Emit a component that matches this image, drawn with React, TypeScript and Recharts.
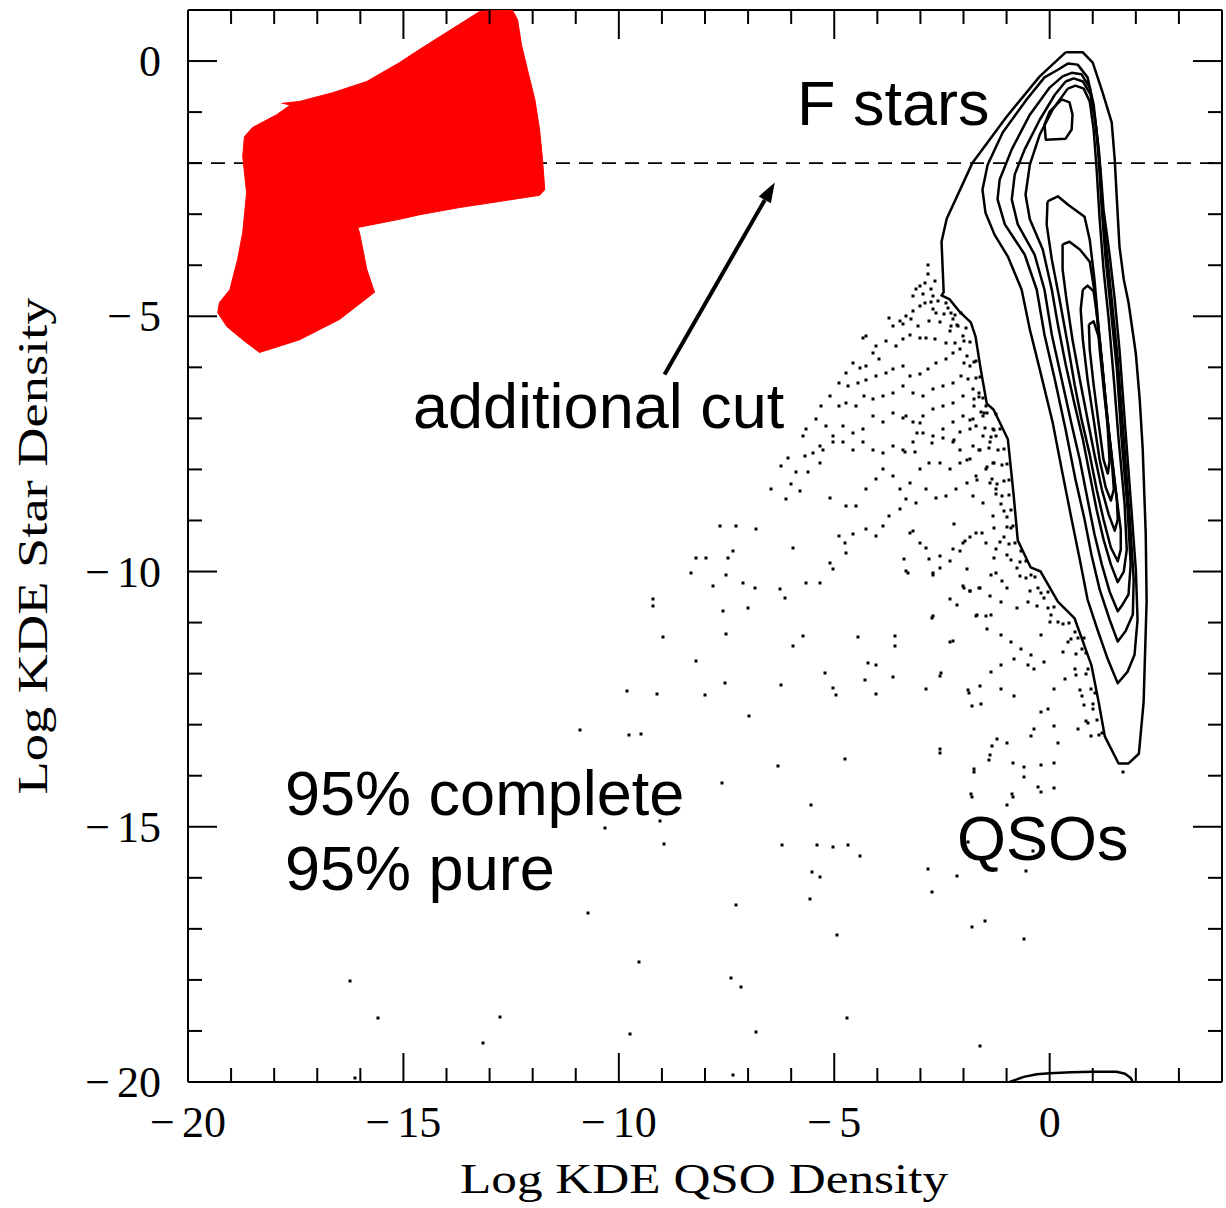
import React from "react";
import { ScatterChart, Scatter, XAxis, YAxis, ReferenceLine } from "recharts";

type Pt = [number, number];

const X_TICKS = [-20, -19, -18, -17, -16, -15, -14, -13, -12, -11, -10, -9, -8, -7, -6, -5, -4, -3, -2, -1, 0, 1, 2, 3];
const Y_TICKS = [-20, -19, -18, -17, -16, -15, -14, -13, -12, -11, -10, -9, -8, -7, -6, -5, -4, -3, -2, -1, 0];

// upper part of the QSO wedge
const wedgeDots: Pt[] = [
  [-2.83, -3.99], [-2.83, -4.18], [-2.9, -4.34], [-2.67, -4.31], [-3.02, -4.41], [-2.75, -4.47], [-2.94, -4.57],
  [-3.1, -4.47], [-3.17, -4.6], [-2.71, -4.6], [-2.9, -4.73], [-3.02, -4.8], [-3.17, -4.9], [-2.71, -4.86],
  [-2.63, -4.93], [-3.33, -4.99], [-3.48, -5.09], [-3.72, -5.03], [-3.64, -5.19], [-3.41, -5.16], [-3.21, -5.06],
  [-3.06, -5.19], [-2.79, -5.09], [-2.55, -5.12], [-2.36, -4.83], [-2.28, -4.93], [-2.4, -4.73], [-2.24, -5.06],
  [-2.13, -5.19], [-2.01, -5.39], [-2.32, -5.29], [-2.4, -5.52], [-2.67, -5.45], [-2.86, -5.42], [-3.02, -5.42],
  [-3.25, -5.36], [-3.41, -5.45], [-3.56, -5.58], [-3.79, -5.49], [-4.02, -5.58], [-4.26, -5.39], [-4.33, -5.42],
  [-4.1, -5.71], [-3.95, -5.84], [-4.26, -5.97], [-4.41, -6.01], [-4.57, -5.91], [-4.72, -6.11], [-4.88, -6.3],
  [-4.68, -6.37], [-4.45, -6.3], [-4.26, -6.24], [-4.02, -6.17], [-3.79, -6.11], [-3.64, -6.04], [-3.41, -5.97],
  [-3.25, -6.17], [-3.02, -6.14], [-2.83, -6.04], [-2.63, -5.91], [-2.4, -5.84], [-2.24, -5.71], [-2.09, -5.65],
  [-1.93, -5.78], [-1.86, -5.97], [-2.05, -6.17], [-2.24, -6.3], [-2.48, -6.37], [-2.71, -6.43], [-2.94, -6.56],
  [-3.17, -6.5], [-3.41, -6.37], [-3.64, -6.5], [-3.87, -6.56], [-4.1, -6.63], [-4.3, -6.56], [-4.49, -6.76],
  [-4.72, -6.69], [-4.88, -6.76], [-5.11, -6.56], [-5.3, -6.76], [-5.42, -7.02], [-5.65, -7.21], [-5.73, -7.34],
  [-5.34, -7.54], [-5.19, -7.15], [-5.03, -7.34], [-4.8, -7.15], [-4.57, -7.28], [-4.33, -7.21], [-4.1, -6.95],
  [-3.87, -7.08], [-3.64, -6.89], [-3.41, -6.99], [-3.17, -7.08], [-2.94, -6.95], [-2.71, -6.82], [-2.48, -6.76],
  [-2.24, -6.69], [-2.01, -6.56], [-1.78, -6.43], [-1.63, -6.5], [-1.47, -6.76], [-1.55, -6.95], [-1.78, -7.02],
  [-2.01, -6.95], [-2.24, -7.08], [-2.48, -7.21], [-2.71, -7.34], [-2.94, -7.28], [-3.17, -7.47], [-3.41, -7.61],
  [-3.64, -7.54], [-3.87, -7.67], [-4.1, -7.61], [-4.33, -7.47], [-4.57, -7.61], [-4.8, -7.47], [-5.03, -7.47],
  [-5.26, -7.61], [-5.5, -7.67], [-5.69, -7.74], [-6.08, -7.77], [-6.23, -7.93], [-5.88, -8.06], [-5.61, -8.06],
  [-6.0, -8.29], [-5.8, -8.42], [-6.46, -8.39], [-6.11, -8.58], [-5.34, -7.87], [-5.11, -8.55], [-4.72, -8.72],
  [-4.49, -8.72], [-4.26, -8.39], [-4.02, -8.19], [-3.87, -8.0], [-3.64, -8.13], [-3.48, -8.39], [-3.25, -8.26],
  [-3.02, -8.0], [-2.79, -7.87], [-2.55, -7.87], [-2.32, -8.0], [-2.09, -7.87], [-1.86, -7.8], [-1.63, -7.61],
  [-1.39, -7.47], [-1.24, -7.34], [-1.32, -7.87], [-1.47, -8.0], [-1.7, -8.13], [-1.93, -8.26], [-2.17, -8.39],
  [-2.4, -8.52], [-2.63, -8.55], [-2.86, -8.39], [-3.1, -8.65], [-3.33, -8.58], [-3.48, -8.78], [-3.72, -8.91],
  [-3.87, -9.11], [-4.02, -9.31], [-4.26, -9.17], [-4.57, -9.27], [-4.76, -9.44], [-4.88, -9.31], [-4.72, -9.63],
  [-5.03, -9.96], [-5.11, -9.83], [-5.34, -10.22], [-5.65, -10.22], [-5.96, -9.53], [-6.27, -10.35], [-6.15, -10.51],
  [-6.81, -9.17], [-7.28, -9.11], [-7.66, -9.11], [-7.47, -9.73], [-7.35, -9.6], [-7.97, -9.73], [-8.2, -9.73],
  [-8.32, -10.02], [-7.82, -10.28], [-7.51, -10.06], [-7.12, -10.22], [-6.85, -10.32], [-7.0, -10.71], [-7.59, -10.77],
  [-9.21, -10.54], [-9.21, -10.68], [-8.98, -11.29], [-7.51, -11.23], [-5.73, -11.26], [-5.96, -11.46], [-4.45, -11.29],
  [-3.6, -11.26], [-3.6, -11.46], [-2.24, -11.36], [-1.7, -10.87], [-2.01, -10.28], [-1.86, -10.38], [-1.63, -10.32],
  [-1.39, -10.48], [-2.71, -10.02], [-2.79, -9.76], [-3.02, -9.44], [-3.25, -9.24], [-3.37, -9.76], [-3.29, -10.02],
  [-2.55, -9.7], [-2.24, -9.56], [-2.01, -9.44], [-1.7, -9.24], [-1.47, -9.44], [-1.24, -9.56], [-1.93, -9.96],
  [-2.32, -10.54], [-2.71, -10.87], [-1.47, -10.87], [-1.24, -10.02], [-1.32, -8.91], [-1.55, -8.65], [-1.78, -8.52],
  [-1.24, -8.39], [-1.39, -8.26], [-1.32, -7.21], [-1.7, -7.15], [-1.86, -7.21], [-2.24, -7.47], [-2.09, -7.61],
  [-1.78, -7.54], [-1.55, -7.34],
];

// dense band along the left edge of the outer contour
const edgeDots: Pt[] = [
  [-3.33, -6.96], [-3.01, -7.09], [-3.09, -7.29], [-3.35, -7.65], [-3.13, -7.65], [-2.74, -7.49], [-2.47, -7.39],
  [-2.23, -7.42], [-2.08, -7.26], [-1.84, -7.03], [-1.76, -6.76], [-1.53, -6.89], [-1.37, -7.36], [-1.61, -7.62],
  [-1.92, -7.82], [-1.69, -8.21], [-1.45, -7.95], [-1.22, -8.28], [-1.14, -8.68], [-0.98, -8.94], [-0.9, -9.14],
  [-1.06, -9.33], [-1.29, -9.14], [-1.57, -9.24], [-1.84, -9.33], [-2.08, -9.6], [-2.31, -9.8], [-2.54, -9.93],
  [-2.7, -10.06], [-2.86, -9.53], [-3.17, -9.2], [-3.33, -9.99], [-2.23, -9.07], [-1.96, -9.4], [-1.29, -9.73],
  [-0.98, -9.67], [-0.67, -9.6], [-1.37, -10.06], [-1.1, -10.19], [-0.75, -9.93], [-0.43, -10.06], [-0.28, -10.33],
  [-0.12, -10.52], [-0.51, -10.59], [-0.75, -10.72], [-0.98, -10.33], [-1.14, -10.59], [-1.37, -10.85], [-1.61, -10.33],
  [-1.84, -10.39], [-2.0, -10.33], [-2.15, -10.65], [-2.31, -11.38], [-2.54, -12.04], [-2.86, -12.3], [-2.74, -10.92],
  [-1.69, -10.85], [-1.45, -11.12], [-1.14, -11.25], [-0.9, -11.38], [-0.67, -11.51], [-0.43, -11.64], [-0.2, -11.25],
  [0.03, -10.85], [0.19, -10.98], [0.43, -11.38], [0.58, -11.18], [0.74, -11.51], [0.66, -11.31], [0.9, -11.91],
  [0.58, -11.91], [0.35, -12.11], [0.11, -12.3], [-0.12, -11.77], [-0.36, -11.91], [-0.51, -11.84], [-0.82, -11.71],
  [-1.14, -11.84], [-1.37, -11.97], [-1.61, -12.24], [-1.88, -12.37], [-1.8, -12.63], [-1.14, -12.3], [-0.82, -12.43],
  [-0.2, -12.76], [-0.04, -12.7], [0.11, -13.03], [-0.36, -13.09], [-0.43, -13.23], [-0.98, -13.36], [-1.22, -13.29],
  [-1.33, -13.42], [-2.54, -13.56], [-1.76, -13.92], [-1.41, -13.69], [-0.86, -13.75], [-0.59, -13.82], [-0.2, -13.79],
  [0.11, -13.75], [0.19, -13.36], [0.66, -13.09], [0.9, -12.96], [1.01, -12.7], [0.74, -12.43], [1.05, -12.37],
  [1.21, -13.16], [-0.28, -14.22], [-0.2, -14.32], [0.11, -14.25], [-0.59, -14.02], [-0.86, -14.41], [-1.8, -14.41],
  [1.7, -13.92],
];

// the thickest crowd, hugging the outer contour
const rimDots: Pt[] = [
  [-2.6, -4.7], [-2.75, -4.72], [-2.45, -4.95], [-2.2, -4.97], [-2.05, -4.93], [-2.3, -5.2], [-1.95, -5.22],
  [-2.15, -5.18], [-1.85, -5.5], [-2.0, -5.48], [-2.2, -5.52], [-1.75, -5.9], [-2.0, -5.92], [-1.7, -5.88],
  [-1.7, -6.2], [-1.9, -6.22], [-1.62, -6.18], [-1.55, -6.6], [-1.75, -6.62], [-1.65, -6.58], [-1.45, -6.9],
  [-1.25, -6.92], [-1.6, -6.88], [-1.15, -7.2], [-1.3, -7.22], [-1.5, -7.18], [-1.05, -7.6], [-1.2, -7.62],
  [-1.4, -7.58], [-1.0, -7.9], [-1.1, -7.92], [-1.3, -7.88], [-0.95, -8.2], [-1.05, -8.22], [-1.35, -8.18],
  [-0.95, -8.5], [-1.1, -8.52], [-1.25, -8.48], [-0.9, -8.8], [-1.05, -8.82], [-0.85, -9.1], [-1.0, -9.12],
  [-0.8, -9.45], [-0.95, -9.47], [-1.15, -9.43], [-0.55, -9.8], [-0.7, -9.82], [-0.9, -9.78], [-0.35, -10.1],
  [-0.55, -10.12], [-0.7, -10.08], [-0.05, -10.4], [-0.2, -10.42], [-0.45, -10.38], [0.1, -10.7], [-0.05, -10.72],
  [-0.3, -10.68], [0.45, -11.0], [0.3, -11.02], [0.0, -10.98], [0.8, -11.3], [0.5, -11.32], [0.85, -11.6],
  [0.6, -11.62], [0.3, -11.58], [0.85, -12.0], [0.6, -12.02], [0.95, -12.3], [0.7, -12.32], [1.0, -12.6],
  [0.8, -12.62], [1.1, -12.9], [0.85, -12.92], [1.15, -13.2], [0.95, -13.22],
];

// scattered outliers towards the lower left
const sparseDots: Pt[] = [
  [-8.22, -11.76], [-5.22, -11.98], [-4.22, -11.8], [-4.04, -11.84], [-4.29, -12.13], [-3.64, -12.06], [-7.54, -12.19],
  [-6.24, -12.23], [-5.04, -12.29], [-4.97, -12.41], [-4.04, -12.39], [-9.82, -12.35], [-9.12, -12.39], [-8.01, -12.41],
  [-6.99, -12.84], [-10.89, -13.11], [-9.77, -13.21], [-9.49, -13.19], [-6.31, -13.8], [-4.76, -13.68], [-7.61, -14.15],
  [-5.55, -14.58], [-9.05, -14.88], [-10.31, -15.03], [-8.96, -15.33], [-6.22, -15.35], [-5.39, -15.35], [-5.04, -15.39],
  [-4.69, -15.35], [-4.41, -15.58], [-5.52, -15.88], [-5.32, -15.99], [-2.83, -15.82], [-2.14, -15.96], [-2.74, -16.27],
  [-5.57, -16.41], [-7.27, -16.54], [-10.72, -16.68], [-4.94, -17.13], [-1.81, -16.97], [-1.49, -16.84], [-0.6, -17.19],
  [-9.54, -17.64], [-7.4, -17.97], [-7.17, -18.13], [-4.71, -18.74], [-9.75, -19.05], [-6.82, -19.03], [-1.62, -19.3],
  [-7.34, -19.87], [-1.9, -15.29], [-1.0, -14.58], [-0.88, -14.35], [-0.39, -15.48], [-0.56, -15.86], [-2.55, -13.47],
  [-1.39, -13.6], [-1.76, -13.86], [-1.83, -14.35], [-1.9, -12.33], [-1.6, -12.6], [-2.53, -11.98],
  [-16.24, -18.03], [-15.59, -18.75], [-12.75, -18.73], [-13.15, -19.23], [-16.13, -19.93],
];

const contour1: Pt[] = [
  [0.37, 0.17], [0.77, 0.17], [1.0, -0.03], [1.23, -0.62], [1.44, -1.2], [1.51, -1.93], [1.56, -2.71], [1.62, -3.63],
  [1.72, -4.28], [1.83, -4.73], [2.0, -5.73], [2.09, -6.63], [2.16, -7.61], [2.23, -9.27], [2.25, -10.59], [2.18, -12.57],
  [2.07, -13.57], [1.83, -13.76], [1.6, -13.76], [1.28, -13.23], [1.14, -12.57], [0.97, -11.84], [0.58, -10.92],
  [0.19, -10.59], [-0.21, -10.0], [-0.44, -9.92], [-0.74, -9.39], [-0.84, -8.47], [-0.97, -7.41], [-1.3, -6.83],
  [-1.46, -6.71], [-1.6, -6.04], [-1.72, -5.4], [-1.83, -5.12], [-2.07, -4.93], [-2.32, -4.67], [-2.51, -4.59],
  [-2.46, -4.53], [-2.51, -3.54], [-2.39, -3.09], [-1.79, -1.99], [-1.0, -1.09], [-0.23, -0.3],
];
const contour2: Pt[] = [
  [0.19, -0.17], [0.42, -0.05], [0.65, -0.07], [0.88, -0.32], [1.02, -0.85], [1.11, -1.54], [1.18, -2.12], [1.25, -2.91],
  [1.39, -3.79], [1.51, -4.67], [1.62, -5.65], [1.74, -7.02], [1.88, -8.59], [2.0, -9.96], [2.04, -10.94], [1.97, -11.63],
  [1.81, -11.96], [1.58, -12.19], [1.35, -11.72], [1.11, -11.14], [0.88, -10.55], [0.7, -9.77], [0.51, -8.98],
  [0.28, -8.0], [0.07, -7.08], [-0.23, -6.04], [-0.46, -5.26], [-0.65, -4.48], [-0.97, -3.83], [-1.28, -3.4],
  [-1.49, -2.97], [-1.56, -2.52], [-1.44, -2.03], [-1.09, -1.4], [-0.53, -0.75], [-0.12, -0.32],
];
const contour3: Pt[] = [
  [0.3, -0.3], [0.51, -0.23], [0.74, -0.26], [0.93, -0.52], [1.04, -1.05], [1.14, -1.73], [1.21, -2.71], [1.32, -3.69],
  [1.44, -4.67], [1.58, -5.85], [1.72, -7.41], [1.86, -8.98], [1.95, -10.16], [1.93, -10.84], [1.76, -11.17],
  [1.58, -11.37], [1.39, -10.94], [1.16, -10.35], [0.97, -9.67], [0.81, -8.98], [0.6, -8.2], [0.37, -7.22],
  [0.12, -6.24], [-0.12, -5.36], [-0.3, -4.48], [-0.58, -3.79], [-1.04, -3.2], [-1.21, -2.71], [-1.16, -2.32],
  [-0.88, -1.73], [-0.46, -1.05], [0.0, -0.52],
];
const contour4: Pt[] = [
  [0.37, -0.4], [0.56, -0.34], [0.77, -0.4], [0.95, -0.66], [1.07, -1.24], [1.14, -1.93], [1.21, -2.91], [1.3, -3.89],
  [1.42, -4.87], [1.56, -6.04], [1.67, -7.41], [1.81, -8.79], [1.88, -9.86], [1.83, -10.45], [1.69, -10.65],
  [1.58, -10.78], [1.39, -10.39], [1.21, -9.86], [1.04, -9.27], [0.88, -8.59], [0.7, -7.81], [0.51, -7.12],
  [0.28, -6.24], [0.05, -5.36], [-0.12, -4.48], [-0.35, -3.79], [-0.74, -3.2], [-0.88, -2.71], [-0.81, -2.22],
  [-0.58, -1.73], [-0.23, -1.15], [0.12, -0.66],
];
const contour5: Pt[] = [
  [0.42, -0.54], [0.6, -0.48], [0.79, -0.54], [0.93, -0.79], [1.02, -1.34], [1.09, -2.12], [1.16, -3.1], [1.25, -4.08],
  [1.37, -5.06], [1.49, -6.24], [1.6, -7.41], [1.74, -8.69], [1.79, -9.57], [1.72, -10.0], [1.58, -10.21], [1.42, -9.86],
  [1.25, -9.37], [1.09, -8.79], [0.93, -8.1], [0.77, -7.41], [0.58, -6.73], [0.37, -5.94], [0.19, -5.16], [0.05, -4.48],
  [-0.16, -3.69], [-0.46, -3.1], [-0.56, -2.62], [-0.46, -2.03], [-0.23, -1.44], [0.07, -0.95],
];
const peakBlob: Pt[] = [
  [0.28, -0.75], [0.46, -0.81], [0.53, -1.05], [0.51, -1.34], [0.37, -1.52], [-0.09, -1.54], [-0.12, -1.24], [0.0, -0.99],
];
const contour6: Pt[] = [
  [-0.05, -2.75], [0.19, -2.65], [0.42, -2.81], [0.81, -3.05], [0.93, -3.5], [1.04, -4.28], [1.14, -5.26], [1.25, -6.24],
  [1.37, -7.22], [1.53, -8.39], [1.65, -9.18], [1.65, -9.57], [1.58, -9.8], [1.42, -9.53], [1.25, -8.98], [1.09, -8.39],
  [0.93, -7.71], [0.74, -7.02], [0.58, -6.34], [0.42, -5.55], [0.23, -4.67], [0.05, -3.89], [-0.07, -3.2],
];
const contour7: Pt[] = [
  [0.3, -3.59], [0.46, -3.54], [0.7, -3.69], [0.93, -3.93], [1.07, -4.67], [1.16, -5.65], [1.28, -6.63], [1.42, -7.61],
  [1.56, -8.59], [1.58, -8.98], [1.51, -9.2], [1.37, -8.88], [1.21, -8.39], [1.04, -7.71], [0.88, -7.02], [0.7, -6.24],
  [0.53, -5.46], [0.39, -4.67], [0.3, -4.08],
];
const contour8: Pt[] = [
  [0.77, -4.48], [0.88, -4.4], [1.02, -4.51], [1.11, -5.06], [1.21, -5.85], [1.32, -6.83], [1.44, -7.81], [1.49, -8.39],
  [1.42, -8.61], [1.3, -8.35], [1.16, -7.81], [1.02, -7.02], [0.88, -6.24], [0.77, -5.46], [0.72, -4.87],
];
const contour9: Pt[] = [
  [0.91, -5.16], [1.02, -5.1], [1.16, -5.46], [1.25, -6.24], [1.35, -7.22], [1.39, -7.84], [1.35, -8.08], [1.25, -7.81],
  [1.14, -7.12], [1.02, -6.34], [0.93, -5.65],
];
const floorContour: Pt[] = [
  [-0.93, -20], [-0.6, -19.9], [-0.3, -19.85], [0.0, -19.83], [0.5, -19.81], [1.0, -19.8], [1.55, -19.8], [1.75, -19.84],
  [1.88, -19.92], [1.93, -20],
];

const starRegion: Pt[] = [
  [-17.83, -0.83], [-17.41, -0.79], [-16.64, -0.62], [-15.85, -0.4], [-15.09, -0.03], [-14.62, 0.23], [-13.7, 0.72],
  [-13.23, 0.97], [-12.77, 1.0], [-12.47, 1.0], [-12.35, 0.81], [-12.26, 0.32], [-12.12, -0.17], [-11.95, -0.75],
  [-11.84, -1.34], [-11.77, -1.93], [-11.72, -2.52], [-11.84, -2.63], [-12.77, -2.75], [-13.7, -2.87], [-14.62, -3.01],
  [-15.09, -3.1], [-16.06, -3.26], [-16.02, -3.36], [-15.85, -4.08], [-15.67, -4.53], [-16.48, -5.06], [-17.41, -5.46],
  [-18.34, -5.71], [-18.73, -5.46], [-19.1, -5.2], [-19.31, -4.93], [-19.27, -4.73], [-19.03, -4.48], [-18.85, -3.89],
  [-18.73, -3.36], [-18.64, -2.58], [-18.73, -1.87], [-18.69, -1.48], [-18.5, -1.3], [-17.94, -1.05], [-17.64, -0.87],
];

const cutArrow: Pt[] = [[-8.94, -6.14], [-6.38, -2.38]];
const CUT_LEVEL = -2;

const contours = [contour1, contour2, contour3, contour4, contour5, peakBlob, contour6, contour7, contour8, contour9];

const toData = (a: Pt[]) => a.map(([x, y]) => ({ x, y }));
const closed = (a: Pt[]) => toData([...a, a[0]]);

const serif = "'Liberation Serif', 'DejaVu Serif', serif";
const sans = "'Liberation Sans', Arial, sans-serif";

const isMajor = (v: number) => v % 5 === 0;

function TickLabel({ x, y, v, anchor }: any) {
  return (
    <text x={x} y={y} textAnchor={anchor} fontFamily={serif} fontSize={44} fill="#000">
      {v < 0 && <tspan>{"\u2212"}</tspan>}
      <tspan dx={v < 0 ? 7 : 0}>{Math.abs(v)}</tspan>
    </text>
  );
}

function BottomTick({ x, y, payload }: any) {
  const v = payload.value;
  return (
    <g>
      <line x1={x} y1={y} x2={x} y2={y - (isMajor(v) ? 29 : 14)} stroke="#000" strokeWidth={2} />
      {isMajor(v) && <TickLabel x={x} y={y + 55} v={v} anchor="middle" />}
    </g>
  );
}

function TopTick({ x, y, payload }: any) {
  const v = payload.value;
  return <line x1={x} y1={y} x2={x} y2={y + (isMajor(v) ? 29 : 14)} stroke="#000" strokeWidth={2} />;
}

function LeftTick({ x, y, payload }: any) {
  const v = payload.value;
  return (
    <g>
      <line x1={x} y1={y} x2={x + (isMajor(v) ? 29 : 14)} y2={y} stroke="#000" strokeWidth={2} />
      {isMajor(v) && <TickLabel x={x - 27} y={y + 15} v={v} anchor="end" />}
    </g>
  );
}

function RightTick({ x, y, payload }: any) {
  const v = payload.value;
  return <line x1={x} y1={y} x2={x - (isMajor(v) ? 29 : 14)} y2={y} stroke="#000" strokeWidth={2} />;
}

const pathOf = (pts: any[]) => pts.map((q: any, i: number) => `${i ? "L" : "M"}${q.x},${q.y}`).join(" ");

const outline = (stroke: string, width: number, fill = "none") => (p: any) => (
  <path d={pathOf(p.points || [])} fill={fill} stroke={stroke} strokeWidth={width} strokeLinejoin="round" />
);

const arrowLine = (p: any) => {
  const pts = p.points || [];
  if (pts.length < 2) return <g />;
  const a = pts[0];
  const b = pts[pts.length - 1];
  const len = Math.hypot(b.x - a.x, b.y - a.y);
  const ux = (b.x - a.x) / len;
  const uy = (b.y - a.y) / len;
  const hl = 20;
  const hw = 7;
  const bx = b.x - ux * hl;
  const by = b.y - uy * hl;
  return (
    <g>
      <line x1={a.x} y1={a.y} x2={bx} y2={by} stroke="#000" strokeWidth={4} />
      <path d={`M${b.x},${b.y} L${bx - uy * hw},${by + ux * hw} L${bx + uy * hw},${by - ux * hw} Z`} fill="#000" />
    </g>
  );
};

const Dot = (p: any) => (
  <rect x={Math.round(p.cx) - 1.5} y={Math.round(p.cy) - 1.5} width={3} height={3} fill="#000" />
);
const NoDot = () => <g />;

export default function App() {
  const axisLine = { stroke: "#000", strokeWidth: 2 };
  return (
    <div style={{ position: "absolute", left: 0, top: 0, background: "#fff" }}>
      <ScatterChart width={1226} height={1208} margin={{ top: 9, right: 3, bottom: 86, left: 128 }}>
        <XAxis xAxisId="b" type="number" dataKey="x" domain={[-20, 4]} ticks={X_TICKS} interval={0}
          tickSize={0} tickMargin={0} tickLine={false} axisLine={axisLine} tick={<BottomTick />} height={40} allowDataOverflow />
        <XAxis xAxisId="t" orientation="top" type="number" dataKey="x" domain={[-20, 4]} ticks={X_TICKS} interval={0}
          tickSize={0} tickMargin={0} tickLine={false} axisLine={axisLine} tick={<TopTick />} height={1} allowDataOverflow />
        <YAxis yAxisId="l" type="number" dataKey="y" domain={[-20, 1]} ticks={Y_TICKS} interval={0}
          tickSize={0} tickMargin={0} tickLine={false} axisLine={axisLine} tick={<LeftTick />} width={60} allowDataOverflow />
        <YAxis yAxisId="r" orientation="right" type="number" dataKey="y" domain={[-20, 1]} ticks={Y_TICKS} interval={0}
          tickSize={0} tickMargin={0} tickLine={false} axisLine={axisLine} tick={<RightTick />} width={1} allowDataOverflow />

        <ReferenceLine xAxisId="b" yAxisId="l" y={CUT_LEVEL} stroke="#000" strokeWidth={1.6} strokeDasharray="14 9" />

        <Scatter xAxisId="b" yAxisId="l" data={toData(starRegion)} shape={NoDot}
          line={outline("#ff0000", 1, "#ff0000")} isAnimationActive={false} />

        <Scatter xAxisId="b" yAxisId="l" data={toData(wedgeDots)} shape={Dot} isAnimationActive={false} />
        <Scatter xAxisId="b" yAxisId="l" data={toData(edgeDots)} shape={Dot} isAnimationActive={false} />
        <Scatter xAxisId="b" yAxisId="l" data={toData(rimDots)} shape={Dot} isAnimationActive={false} />
        <Scatter xAxisId="b" yAxisId="l" data={toData(sparseDots)} shape={Dot} isAnimationActive={false} />

        {contours.map((c, i) => (
          <Scatter key={i} xAxisId="b" yAxisId="l" data={closed(c)} shape={NoDot}
            line={outline("#000", 2.5)} isAnimationActive={false} />
        ))}
        <Scatter xAxisId="b" yAxisId="l" data={toData(floorContour)} shape={NoDot}
          line={outline("#000", 2.5)} isAnimationActive={false} />

        <Scatter xAxisId="b" yAxisId="l" data={toData(cutArrow)} shape={NoDot} line={arrowLine} isAnimationActive={false} />

        <text x={704} y={1193} textAnchor="middle" fontFamily={serif} fontSize={42} textLength={488}
          lengthAdjust="spacingAndGlyphs" fill="#000">Log KDE QSO Density</text>
        <text x={47} y={546} transform="rotate(-90, 47, 546)" textAnchor="middle" fontFamily={serif} fontSize={42}
          textLength={497} lengthAdjust="spacingAndGlyphs" fill="#000">Log KDE Star Density</text>

        <text x={302} y={190} fontFamily={sans} fontSize={62} fill="#ffff00">Stars</text>
        <text x={797} y={125} fontFamily={sans} fontSize={63} fill="#000">F stars</text>
        <text x={413} y={428} fontFamily={sans} fontSize={63} fill="#000">additional cut</text>
        <text x={285} y={815} fontFamily={sans} fontSize={63} fill="#000">95% complete</text>
        <text x={285} y={890} fontFamily={sans} fontSize={63} fill="#000">95% pure</text>
        <text x={957} y={860} fontFamily={sans} fontSize={63} fill="#000">QSOs</text>
      </ScatterChart>
    </div>
  );
}
